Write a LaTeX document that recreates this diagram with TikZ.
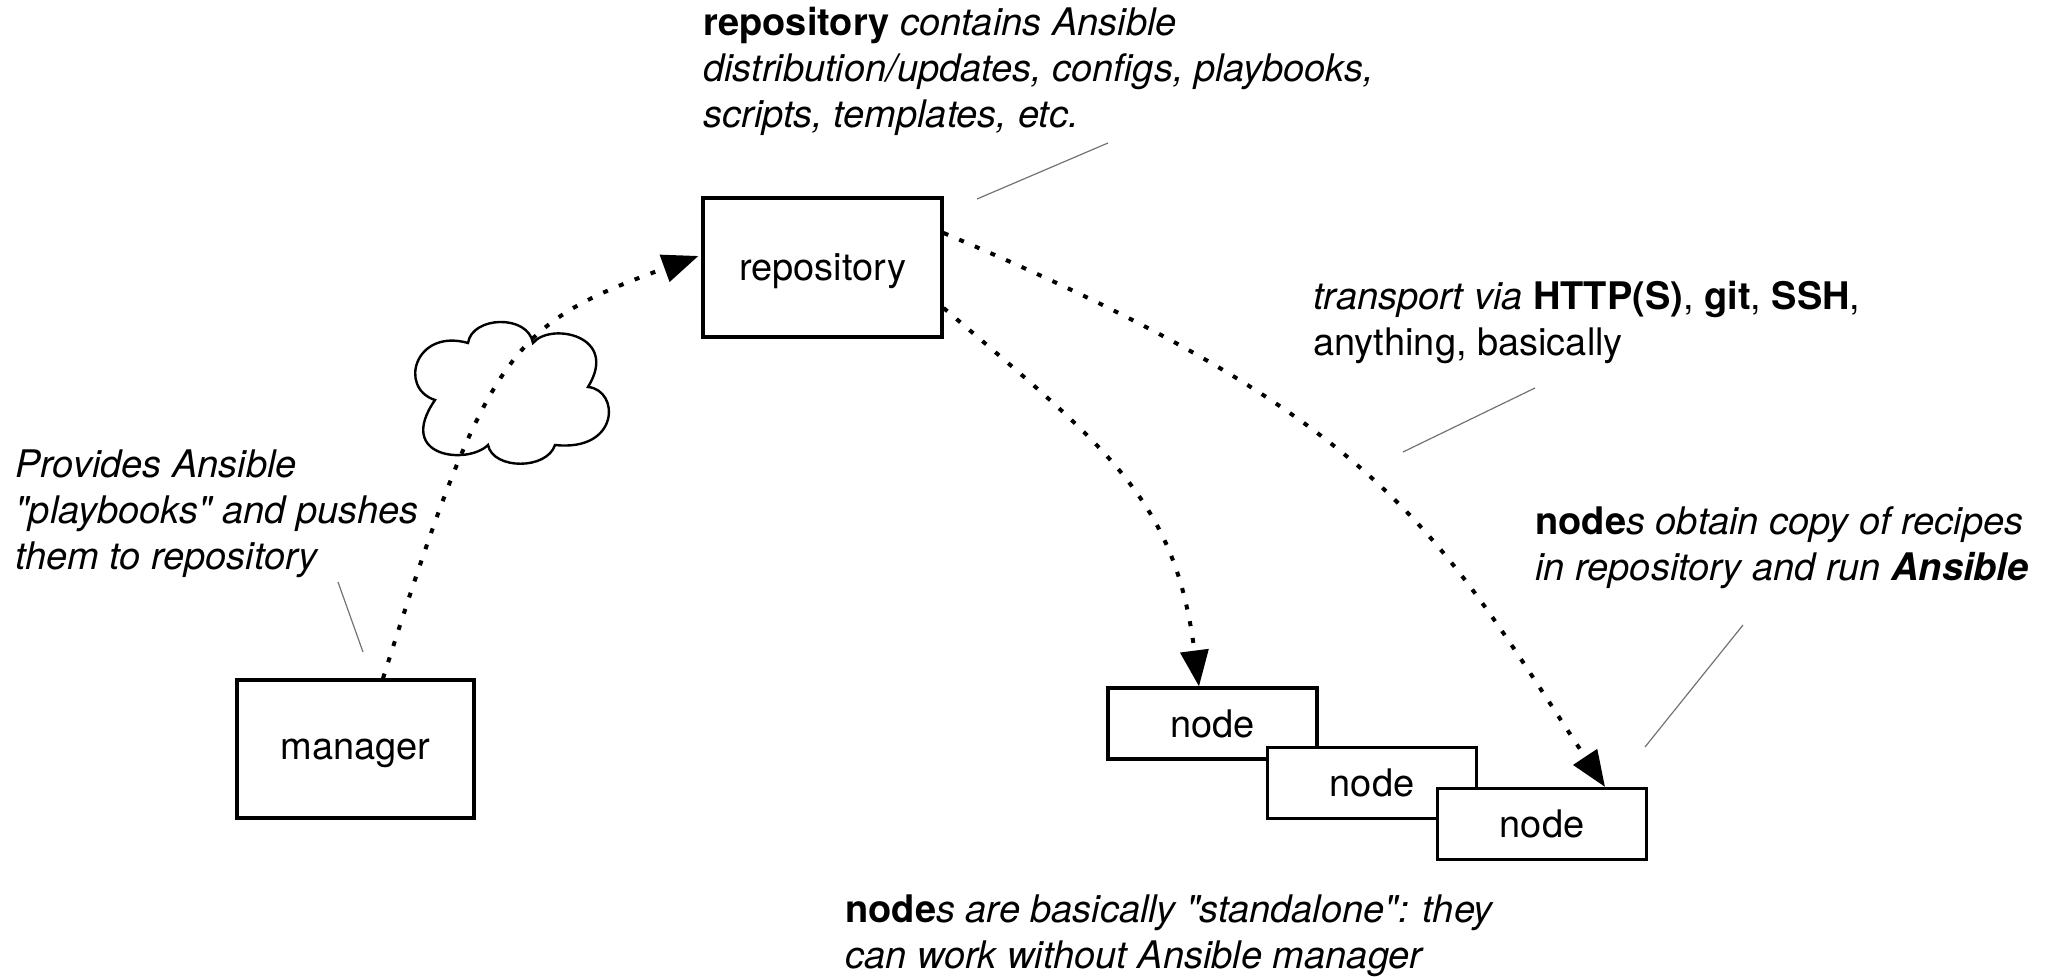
\documentclass[tikz,border=0pt]{standalone}
\usepackage{fontspec}
\setmainfont{TeX Gyre Heros}
\usetikzlibrary{arrows.meta}
\newcommand{\mylines}[1]{\begin{tabular}[t]{@{}l@{}}#1\end{tabular}}
\begin{document}
\begin{tikzpicture}[x=0.5pt,y=-0.5pt,
  box/.style={draw=black, line width=1.6pt, fill=white, inner sep=0pt, text depth=0pt,
    font=\fontsize{19}{23}\selectfont},
  txt/.style={anchor=base west, inner sep=0pt, font=\fontsize{19}{23}\selectfont},
  flow/.style={line width=2pt, dash pattern=on 2.5pt off 6pt,
    -{Triangle[length=18pt,width=14pt]}},
  leader/.style={draw=black!55, line width=0.6pt},
  cloudline/.style={line width=1.2pt}]
\useasboundingbox (0,0) rectangle (2053,977);

% boxes
\node[box, minimum width=118.5pt, minimum height=69pt] (mgr) at (355.5,749) {manager};
\node[box, minimum width=119.5pt, minimum height=69.5pt] (repo) at (822.5,267.5) {repository};
\node[box, minimum width=104.5pt, minimum height=35.5pt] (n1) at (1212.5,723.5) {node};
\node[box, minimum width=104.5pt, minimum height=35.5pt] (n2) at (1372,783) {node};
\node[box, minimum width=104.5pt, minimum height=35.5pt] (n3) at (1542,824) {node};

% cloud
\draw[cloudline] (435,400) .. controls (398,388) and (415,328) .. (468,343)
  .. controls (472,316) and (528,314) .. (533,343)
  .. controls (550,322) and (620,335) .. (588,387)
  .. controls (620,390) and (620,452) .. (555,445)
  .. controls (547,470) and (493,470) .. (488,445)
  .. controls (468,465) and (395,458) .. (435,400) -- cycle;

% flows
\draw[flow] ([xshift=13.75pt]mgr.north) .. controls (488,347) and (512,324) .. ([xshift=-1.5pt,yshift=5.75pt]repo.west);
\draw[flow] ([yshift=-20.25pt]repo.east) .. controls (1110,450) and (1175,500) .. ([xshift=-6.75pt]n1.north);
\draw[flow] ([yshift=17.25pt]repo.east) .. controls (1392,422) and (1440,538) .. ([xshift=31.5pt]n3.north);

% texts
\node[txt] (ttop) at (703,36) {\mylines{\textbf{repository} \textit{contains Ansible}\\
  \textit{distribution/updates, configs, playbooks,}\\
  \textit{scripts, templates, etc.}}};
\node[txt] (tleft) at (15,478) {\mylines{\textit{Provides Ansible}\\
  \textit{\textquotedbl playbooks\textquotedbl{} and pushes}\\
  \textit{them to repository}}};
\node[txt] (ttrans) at (1313,310) {\mylines{\textit{transport via} \textbf{HTTP(S)}, \textbf{git}, \textbf{SSH},\\
  anything, basically}};
\node[txt] (tnodes) at (1535,535) {\mylines{\textbf{node}\textit{s obtain copy of recipes}\\
  \textit{in repository and run} \textbf{\textit{Ansible}}}};
\node[txt] (tbottom) at (845,923) {\mylines{\textbf{node}\textit{s are basically \textquotedbl standalone\textquotedbl: they}\\
  \textit{can work without Ansible manager}}};

% leader lines
\coordinate (a1) at (1108,143); \coordinate (a2) at (977,199);
\coordinate (b1) at (338,582);  \coordinate (b2) at (363,652);
\coordinate (c1) at (1535,388); \coordinate (c2) at (1403,452);
\coordinate (d1) at (1743,625); \coordinate (d2) at (1645,747);
\draw[leader] (a1) -- (a2);
\draw[leader] (b1) -- (b2);
\draw[leader] (c1) -- (c2);
\draw[leader] (d1) -- (d2);
\end{tikzpicture}
\end{document}
